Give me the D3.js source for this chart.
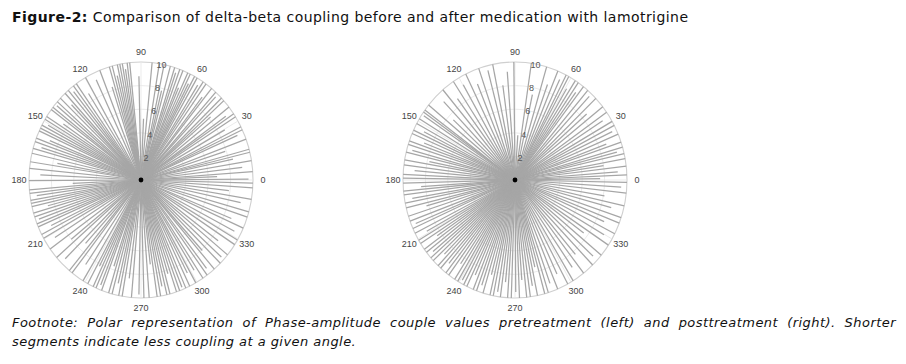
<!DOCTYPE html>
<html>
<head>
<meta charset="utf-8">
<script src="https://cdn.jsdelivr.net/npm/d3@7"></script>
<style>
  body { margin: 0; background: #fff; }
</style>
</head>
<body>
<div class="chart"></div>
<script>
// segments: [angle in degrees, length]
const leftSegments = [
  [0.5,9.6],[2.4,6.8],[4.1,10],[6.8,9.1],[9.5,10],[12.2,8.4],[13.6,10],[15.1,10],[17.9,7.9],[20.3,10],[23.7,9.4],[25.2,10],[26.8,10],[29.6,8.6],
  [32.4,10],[34.1,10],[35.5,9.3],[38.2,10],[40.7,8.2],[42.3,10],[44.0,10],[46.6,9.7],[48.1,10],[50.9,10],[52.2,8.9],[54.5,10],[56.3,10],[57.8,9.5],[59.9,10],
  [61.4,10],[62.6,9.2],[63.9,10],[65.3,10],[66.8,8.5],[68.0,10],[69.7,10],[71.2,9.6],[72.5,10],[74.8,10],[76.4,7.8],[78.1,10],[80.6,10],[84.3,10],[87.5,5.2],
  [91.2,8.8],[95.8,10],[97.1,10],[98.4,9.5],[99.6,10],[100.9,10],[102.2,10],[103.5,9.1],[104.9,10],[106.4,10],[108.1,8.3],[111.6,10],[115.2,9.4],[119.7,10],
  [122.6,8.7],[125.3,10],[127.1,10],[128.8,9.6],[130.5,10],[132.7,10],[134.2,8.9],[136.1,10],[138.4,10],[140.0,9.8],[141.9,10],[143.3,10],[145.6,8.4],[147.4,10],[149.0,10],
  [150.8,9.5],[152.3,10],[153.9,10],[155.4,10],[157.7,8.8],[159.2,10],[161.0,10],[162.8,9.3],[164.5,10],[166.9,10],[169.3,7.6],[171.1,10],[174.4,10],[177.2,9.0],
  [180.3,10],[182.6,6.1],[184.8,10],[186.5,10],[188.1,9.4],[189.9,10],[191.4,10],[193.0,10],[194.7,8.6],[196.3,10],[198.2,10],[200.0,9.7],[201.8,10],[203.4,10],[205.7,8.9],[207.5,10],[209.6,10],
  [212.4,9.1],[215.8,10],[218.9,8.0],[221.1,10],[224.6,9.5],[227.3,7.3],[230.2,10],[232.0,10],[235.4,8.7],[238.8,10],
  [241.6,10],[243.1,8.2],[244.7,10],[246.3,10],[248.0,9.6],[249.4,10],[251.7,7.7],[253.2,10],[255.0,10],[256.9,9.0],[258.5,10],[260.3,10],[262.8,8.4],[265.1,10],
  [268.9,9.7],[271.5,10],[274.2,10],[276.6,7.2],[278.3,10],[280.1,10],[281.7,9.2],[283.4,10],[285.0,10],[286.8,8.3],[288.5,10],[290.2,10],[291.9,9.8],[293.6,10],[295.8,10],[297.7,8.9],[299.3,10],
  [301.8,9.0],[303.6,10],[306.2,10],[308.0,9.5],[310.9,10],[312.5,8.1],[315.1,10],[317.7,9.7],[320.6,10],[323.2,8.6],[326.8,10],[329.4,10],
  [332.5,9.4],[335.9,10],[338.0,8.7],[341.7,10],[344.3,10],[347.8,9.1],[350.6,10],[353.4,7.9],[356.2,10],[358.5,10]
];

const rightSegments = [
  [0.8,7.6],[2.5,10],[4.3,9.2],[6.7,10],[8.8,8.0],[10.4,10],[12.9,10],[14.6,9.4],[16.2,10],[18.7,10],[20.5,8.7],[22.9,10],[25.3,9.6],[27.6,10],[29.8,10],
  [32.7,9.3],[35.1,10],[38.4,10],[41.2,8.5],[43.8,10],[46.9,9.7],[49.5,10],[52.3,10],[53.9,9.2],[55.6,10],[57.4,10],[59.2,9.0],
  [61.3,10],[62.8,10],[64.9,9.4],[67.5,10],[70.3,8.6],[73.6,10],[77.9,7.4],[81.6,10],[86.2,3.8],
  [90.6,10],[94.3,9.2],[97.7,8.1],[101.5,10],[104.6,9.6],[108.9,10],[112.4,8.8],[116.1,10],[119.8,9.3],
  [123.4,10],[126.7,8.6],[130.1,10],[133.8,9.2],[137.2,7.5],[140.5,10],[143.6,10],[144.8,10],[146.2,9.8],[148.7,10],
  [151.4,10],[153.3,9.1],[155.0,10],[156.8,10],[158.9,8.7],[160.6,10],[162.4,10],[164.7,9.5],[166.3,10],[168.5,7.8],[170.2,10],[172.6,10],[174.9,9.0],[177.3,10],[179.1,10],
  [181.5,10],[183.8,8.4],[185.4,10],[187.2,10],[189.6,9.3],[191.3,10],[193.7,10],[195.5,8.2],[197.9,10],[200.4,10],[202.6,9.6],[204.3,10],[206.8,10],[208.9,9.0],
  [210.7,10],[212.5,10],[214.2,8.4],[216.0,10],[217.8,10],[219.6,9.5],[221.3,10],[223.1,10],[224.9,8.9],[226.6,10],[228.4,10],[230.1,9.2],[231.9,10],[233.7,10],[235.6,8.6],[237.4,10],[239.2,10],
  [241.0,9.7],[242.7,10],[244.5,10],[246.2,8.8],[248.1,10],[249.9,10],[251.6,9.4],[253.4,10],[255.3,8.3],[257.1,10],[258.8,10],[260.7,9.6],[262.5,10],[264.4,8.7],[266.2,10],[268.1,10],
  [270.4,9.5],[272.3,10],[274.1,8.5],[276.0,10],[277.9,10],[279.8,9.1],[281.6,10],[283.5,7.6],[285.4,10],[287.3,10],[289.6,9.3],[292.4,10],[295.2,8.8],[298.1,10],
  [301.3,10],[304.6,9.0],[307.8,10],[310.5,8.3],[313.9,10],[317.2,9.5],[320.4,10],[323.8,7.6],[326.5,10],[329.7,9.2],
  [332.9,10],[336.1,8.7],[338.6,10],[341.4,10],[344.8,8.9],[347.3,10],[350.5,8.1],[353.6,10],[356.4,9.5],[358.9,10]
];

const radialTicks = [2, 4, 6, 8, 10];
const angleTicks = [0, 30, 60, 90, 120, 150, 180, 210, 240, 270, 300, 330];

const titleBold = "Figure-2:";
const titleText = " Comparison of delta-beta coupling before and after medication with lamotrigine";
const footLine1 = "Footnote: Polar representation of Phase-amplitude couple values pretreatment (left) and posttreatment (right). Shorter";
const footLine2 = "segments indicate less coupling at a given angle.";

const width = 906;
const height = 364;

const svg = d3.select(".chart")
    .append("svg")
    .attr("width", width)
    .attr("height", height)
    .style("display", "block")
    .style("background", "#fff");

// title, stretched to the width it has in the picture
const title = svg.append("text")
    .attr("x", 12)
    .attr("y", 22)
    .attr("textLength", 676)
    .attr("lengthAdjust", "spacing")
    .style("font-family", "DejaVu Sans")
    .style("font-size", "14px")
    .style("fill", "#111");
title.append("tspan").style("font-weight", "bold").text(titleBold);
title.append("tspan").text(titleText);

// one polar plot (picture is slightly stretched vertically)
function drawPolar(cx, cy, segments) {
    const xR = d3.scaleLinear().domain([0, 10]).range([0, 112]);
    const yR = d3.scaleLinear().domain([0, 10]).range([0, 118]);
    const px = (deg, r) => cx + xR(r) * Math.cos(deg * Math.PI / 180);
    const py = (deg, r) => cy - yR(r) * Math.sin(deg * Math.PI / 180);

    const g = svg.append("g");

    g.selectAll(".ring")
        .data(radialTicks)
        .enter()
        .append("ellipse")
        .attr("cx", cx)
        .attr("cy", cy)
        .attr("rx", d => xR(d))
        .attr("ry", d => yR(d))
        .style("fill", "none")
        .style("stroke", d => d === 10 ? "#cfcfcf" : "#e6e6e6")
        .style("stroke-width", d => d === 10 ? 1.1 : 0.8);

    g.selectAll(".spoke")
        .data(angleTicks)
        .enter()
        .append("line")
        .attr("x1", cx)
        .attr("y1", cy)
        .attr("x2", d => px(d, 10))
        .attr("y2", d => py(d, 10))
        .style("stroke", "#e6e6e6")
        .style("stroke-width", 0.8);

    g.selectAll(".seg")
        .data(segments)
        .enter()
        .append("line")
        .attr("x1", cx)
        .attr("y1", cy)
        .attr("x2", d => px(d[0], d[1]))
        .attr("y2", d => py(d[0], d[1]))
        .style("stroke", "#a6a6a6")
        .style("stroke-width", 1.25);

    g.append("circle")
        .attr("cx", cx)
        .attr("cy", cy)
        .attr("r", 2.4)
        .style("fill", "#000");

    g.selectAll(".alab")
        .data(angleTicks)
        .enter()
        .append("text")
        .attr("x", d => px(d, 10.9))
        .attr("y", d => py(d, 10.85))
        .attr("text-anchor", "middle")
        .attr("dominant-baseline", "central")
        .style("font-family", "Liberation Sans")
        .style("font-size", "9px")
        .style("fill", "#444")
        .text(d => d);

    g.selectAll(".rlab")
        .data(radialTicks)
        .enter()
        .append("text")
        .attr("x", d => px(80, d) + 1)
        .attr("y", d => py(80, d) + 1)
        .attr("text-anchor", "middle")
        .attr("dominant-baseline", "central")
        .style("font-family", "Liberation Sans")
        .style("font-size", "9px")
        .style("fill", "#555")
        .text(d => d);
}

drawPolar(141, 180, leftSegments);
drawPolar(515, 180, rightSegments);

// footnote, first line justified word by word
function footText(sel) {
    return sel
        .style("font-family", "DejaVu Sans")
        .style("font-style", "italic")
        .style("font-size", "13px")
        .style("letter-spacing", "0.45px")
        .style("fill", "#111");
}
function justifiedLine(str, x0, x1, y) {
    const words = str.split(" ");
    const t = svg.append("g");
    const nodes = words.map(w => footText(t.append("text").attr("y", y)).text(w));
    const widths = nodes.map(n => n.node().getComputedTextLength());
    const gap = (x1 - x0 - d3.sum(widths)) / (words.length - 1);
    let x = x0;
    nodes.forEach((n, i) => { n.attr("x", x); x += widths[i] + gap; });
}
justifiedLine(footLine1, 12, 896, 327);

footText(svg.append("text")
    .attr("x", 12)
    .attr("y", 346))
    .text(footLine2);
</script>
</body>
</html>
